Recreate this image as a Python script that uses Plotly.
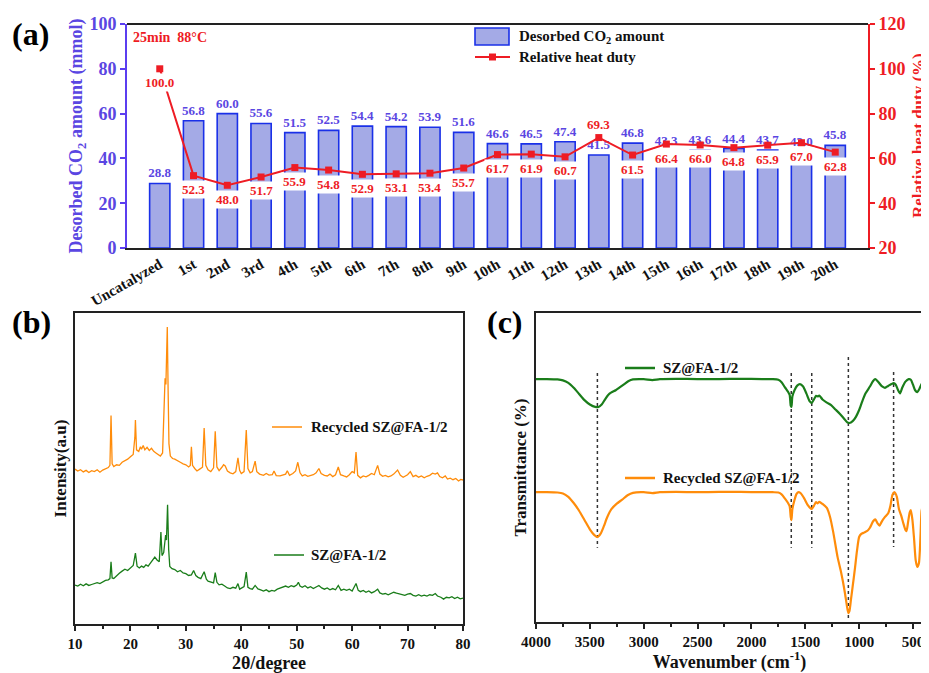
import plotly.graph_objects as go

# ---------------- data ----------------
cycles = ["Uncatalyzed", "1st", "2nd", "3rd", "4th", "5th", "6th", "7th", "8th", "9th", "10th",
          "11th", "12th", "13th", "14th", "15th", "16th", "17th", "18th", "19th", "20th"]
desorbed_co2 = [28.8, 56.8, 60.0, 55.6, 51.5, 52.5, 54.4, 54.2, 53.9, 51.6, 46.6,
                46.5, 47.4, 41.5, 46.8, 43.3, 43.6, 44.4, 43.7, 43.0, 45.8]
heat_duty = [100.0, 52.3, 48.0, 51.7, 55.9, 54.8, 52.9, 53.1, 53.4, 55.7, 61.7,
             61.9, 60.7, 69.3, 61.5, 66.4, 66.0, 64.8, 65.9, 67.0, 62.8]

xrd_recycled = [
    (10.0, 49.8), (10.5, 49.2), (11.0, 49.6), (11.5, 48.9), (12.0, 49.4), (12.5, 48.7), (13.0, 49.3),
    (13.5, 49.0), (14.0, 49.6), (14.5, 48.8), (15.0, 49.5), (15.5, 50.0), (16.0, 50.3), (16.3, 51.0),
    (16.5, 67.0), (16.7, 51.5), (17.0, 50.6), (17.5, 51.2), (18.0, 51.0), (18.5, 52.0), (19.0, 52.4),
    (19.5, 53.0), (20.0, 53.8), (20.5, 54.5), (20.8, 60.0), (20.9, 65.6), (21.1, 56.0), (21.5, 55.5),
    (21.8, 57.0), (22.0, 56.2), (22.3, 57.4), (22.6, 56.0), (23.0, 56.8), (23.4, 55.8), (23.8, 56.5),
    (24.2, 55.5), (24.6, 55.0), (25.0, 54.6), (25.4, 54.0), (25.8, 55.0), (26.0, 66.0), (26.1, 72.0),
    (26.25, 79.0), (26.4, 77.0), (26.5, 82.0), (26.65, 95.5), (26.8, 75.0), (26.95, 58.0), (27.2, 54.0),
    (27.6, 53.2), (28.0, 53.0), (28.5, 52.6), (29.0, 52.0), (29.5, 51.5), (30.0, 51.2), (30.5, 50.5),
    (30.8, 51.0), (31.0, 57.0), (31.2, 51.0), (31.6, 50.0), (32.0, 49.2), (32.5, 49.8), (33.0, 50.4),
    (33.3, 63.0), (33.6, 51.0), (34.0, 49.6), (34.5, 49.0), (35.0, 50.2), (35.3, 62.0), (35.6, 50.5),
    (36.0, 49.3), (36.5, 50.4), (36.8, 51.2), (37.1, 50.8), (37.5, 49.2), (38.0, 48.6), (38.5, 48.3),
    (39.0, 49.0), (39.4, 53.4), (39.7, 49.4), (40.0, 48.4), (40.5, 49.0), (40.9, 62.4), (41.2, 50.0),
    (41.6, 48.6), (42.0, 49.0), (42.5, 52.4), (42.8, 49.0), (43.3, 48.2), (44.0, 47.8), (44.5, 48.4),
    (45.0, 47.9), (45.6, 48.0), (45.9, 49.2), (46.3, 47.7), (47.0, 47.6), (47.5, 48.0), (48.0, 48.2),
    (48.3, 49.3), (48.7, 47.8), (49.3, 48.4), (49.8, 49.2), (50.2, 52.0), (50.6, 48.6), (51.0, 47.6),
    (51.5, 48.0), (52.0, 47.5), (52.5, 47.8), (53.0, 48.0), (53.5, 48.6), (54.0, 50.0), (54.4, 48.4),
    (55.0, 47.8), (55.5, 47.6), (56.0, 48.2), (56.5, 47.4), (57.0, 48.0), (57.5, 50.5), (57.9, 48.0),
    (58.5, 47.6), (59.0, 47.3), (59.5, 48.0), (60.0, 49.0), (60.4, 48.6), (60.7, 55.3), (61.0, 47.8),
    (61.5, 47.0), (62.0, 47.6), (62.5, 47.3), (63.0, 47.8), (63.5, 48.4), (64.0, 48.0), (64.6, 51.0),
    (65.0, 48.2), (65.5, 47.5), (66.0, 47.8), (66.5, 47.3), (67.0, 47.6), (67.5, 48.2), (68.2, 49.5),
    (68.7, 47.8), (69.2, 47.2), (69.7, 47.6), (70.0, 48.0), (70.5, 49.0), (71.0, 47.4), (71.5, 47.8),
    (72.0, 47.2), (72.5, 47.6), (73.0, 47.0), (73.5, 47.5), (74.0, 47.8), (74.5, 48.5), (75.0, 48.2),
    (75.4, 48.6), (75.8, 47.4), (76.3, 47.0), (76.8, 47.6), (77.2, 46.6), (77.7, 46.9), (78.2, 46.4),
    (78.7, 46.8), (79.2, 46.0), (79.6, 46.5), (80.0, 46.3),
]

xrd_fresh = [
    (10.0, 12.5), (10.5, 12.2), (11.0, 12.8), (11.5, 12.3), (12.0, 12.9), (12.5, 12.4), (13.0, 12.7),
    (13.5, 12.9), (14.0, 13.3), (14.5, 13.0), (15.0, 13.6), (15.5, 14.0), (16.0, 14.2), (16.3, 14.6),
    (16.5, 20.0), (16.7, 14.8), (17.0, 14.6), (17.5, 15.6), (18.0, 16.3), (18.5, 17.0), (19.0, 17.6),
    (19.5, 17.2), (20.0, 18.0), (20.5, 18.8), (20.9, 22.8), (21.2, 18.6), (21.6, 18.0), (22.0, 18.6),
    (22.4, 18.2), (22.8, 19.0), (23.2, 18.6), (23.6, 19.6), (24.0, 20.5), (24.4, 21.5), (24.8, 20.6),
    (25.2, 20.0), (25.5, 29.6), (25.7, 22.0), (26.0, 23.0), (26.2, 26.0), (26.35, 28.6), (26.5, 27.0),
    (26.7, 38.3), (26.9, 24.0), (27.1, 18.5), (27.5, 17.8), (28.0, 17.5), (28.5, 16.8), (29.0, 17.2),
    (29.5, 16.4), (30.0, 16.2), (30.5, 15.6), (31.0, 15.8), (31.4, 17.2), (31.8, 15.6), (32.2, 15.0),
    (32.7, 14.6), (33.3, 16.8), (33.7, 14.4), (34.0, 13.8), (34.5, 13.4), (35.0, 13.2), (35.3, 16.5),
    (35.6, 13.4), (36.0, 12.6), (36.5, 12.8), (37.0, 12.2), (37.5, 11.6), (38.0, 11.4), (38.5, 11.8),
    (39.0, 11.5), (39.4, 13.0), (39.7, 11.2), (40.2, 11.6), (40.5, 12.0), (40.9, 16.7), (41.2, 11.8),
    (41.6, 11.4), (42.0, 11.2), (42.5, 12.4), (43.0, 11.3), (43.5, 11.0), (44.0, 10.6), (44.5, 11.0),
    (45.0, 10.4), (45.5, 10.8), (46.0, 10.6), (46.5, 11.2), (47.0, 11.5), (47.5, 11.8), (48.0, 12.2),
    (48.5, 11.8), (49.0, 12.3), (49.5, 12.0), (50.0, 12.5), (50.3, 13.4), (50.6, 12.2), (51.0, 11.8),
    (51.5, 12.3), (52.0, 11.6), (52.5, 12.0), (53.0, 11.4), (53.5, 11.8), (54.0, 12.4), (54.5, 11.6),
    (55.0, 11.2), (55.5, 11.6), (56.0, 11.0), (56.5, 11.4), (57.0, 11.0), (57.5, 12.4), (58.0, 10.8),
    (58.5, 11.2), (59.0, 10.8), (59.5, 11.2), (60.0, 10.6), (60.7, 13.0), (61.1, 10.8), (61.5, 10.4),
    (62.0, 10.8), (62.5, 10.2), (63.0, 10.6), (63.5, 10.0), (64.0, 10.4), (64.6, 11.2), (65.0, 10.0),
    (65.5, 9.6), (66.0, 9.8), (66.5, 9.4), (67.0, 9.8), (67.5, 10.2), (68.0, 9.9), (68.5, 9.6),
    (69.0, 9.4), (69.5, 9.2), (70.0, 9.6), (70.5, 9.8), (71.0, 9.2), (71.5, 9.0), (72.0, 9.4),
    (72.5, 9.0), (73.0, 9.3), (73.5, 9.0), (74.0, 9.4), (74.5, 9.2), (75.0, 9.8), (75.4, 9.0),
    (76.0, 8.6), (76.5, 8.0), (77.0, 8.6), (77.5, 8.4), (78.0, 8.8), (78.5, 8.2), (79.0, 8.6),
    (79.5, 8.1), (80.0, 8.3),
]

ftir_fresh = [
    (4000, 78.6), (3900, 78.6), (3800, 78.5), (3750, 78.2), (3700, 77.4), (3650, 75.8), (3600, 73.8),
    (3550, 71.8), (3500, 70.4), (3450, 69.6), (3420, 69.6), (3390, 70.4), (3360, 72.0), (3330, 73.5),
    (3300, 74.3), (3260, 75.0), (3220, 76.0), (3180, 77.0), (3140, 78.0), (3100, 78.5), (3000, 78.6),
    (2920, 78.3), (2850, 78.6), (2700, 78.7), (2500, 78.6), (2300, 78.6), (2100, 78.7), (1900, 78.6),
    (1800, 78.6), (1750, 78.4), (1720, 77.6), (1690, 76.0), (1660, 74.5), (1645, 73.5), (1635, 70.0),
    (1628, 69.6), (1620, 73.0), (1600, 75.0), (1575, 76.5), (1550, 77.0), (1520, 76.2), (1490, 74.0),
    (1460, 71.5), (1440, 70.9), (1420, 72.0), (1400, 73.2), (1385, 73.0), (1370, 73.3), (1340, 72.0),
    (1300, 71.0), (1260, 70.2), (1220, 68.8), (1180, 67.4), (1140, 65.8), (1110, 64.6), (1090, 64.4),
    (1060, 65.0), (1030, 66.4), (1000, 68.6), (970, 71.5), (940, 74.0), (900, 76.2), (870, 78.0),
    (850, 78.6), (820, 77.6), (790, 76.3), (760, 75.8), (730, 76.4), (700, 77.0), (680, 77.3),
    (660, 76.8), (640, 75.2), (620, 74.0), (600, 75.8), (570, 77.8), (540, 78.6), (520, 78.4),
    (500, 76.8), (480, 75.0), (460, 74.4), (440, 75.5), (420, 77.0), (407, 77.7),
]

ftir_recycled = [
    (4000, 42.0), (3900, 42.0), (3800, 41.9), (3750, 41.6), (3700, 40.5), (3650, 38.5), (3600, 36.0),
    (3550, 33.0), (3500, 30.0), (3460, 28.2), (3430, 27.5), (3400, 28.6), (3370, 31.0), (3340, 33.8),
    (3300, 36.5), (3250, 38.3), (3200, 39.6), (3150, 41.0), (3100, 41.8), (3000, 42.0), (2920, 41.7),
    (2850, 42.0), (2700, 42.1), (2500, 42.0), (2300, 42.1), (2100, 42.1), (1900, 42.0), (1800, 42.0),
    (1750, 41.9), (1720, 41.3), (1690, 40.0), (1660, 38.5), (1645, 37.5), (1635, 34.0), (1628, 33.0),
    (1620, 36.5), (1600, 39.5), (1580, 41.5), (1560, 42.0), (1540, 41.6), (1510, 40.0), (1480, 38.0),
    (1450, 36.8), (1440, 36.6), (1420, 37.6), (1400, 38.8), (1385, 38.4), (1370, 38.9), (1340, 38.2),
    (1300, 36.9), (1270, 34.0), (1240, 29.0), (1200, 21.0), (1170, 16.5), (1150, 13.0), (1130, 9.0),
    (1110, 4.5), (1100, 2.9), (1090, 3.5), (1075, 7.5), (1060, 11.5), (1040, 17.0), (1020, 23.0),
    (1000, 27.5), (980, 28.5), (950, 29.0), (920, 29.6), (900, 30.5), (870, 32.6), (850, 33.2),
    (830, 32.0), (810, 31.2), (790, 32.5), (760, 34.0), (730, 35.2), (710, 37.5), (690, 41.2),
    (670, 42.0), (650, 40.5), (630, 36.5), (610, 34.5), (590, 32.0), (570, 29.8), (560, 29.4),
    (545, 32.5), (530, 35.5), (520, 36.2), (505, 33.0), (490, 27.0), (475, 20.0), (460, 17.8),
    (445, 19.0), (430, 28.0), (420, 36.0), (407, 37.9),
]

ftir_marker_positions = [3430, 1630, 1440, 1100, 680]
ftir_marker_top = [80.6, 80.6, 80.6, 85.8, 80.9]
ftir_marker_bottom = [24.0, 24.0, 24.0, 0.6, 24.3]

# ---------------- styles ----------------
FONT = "Liberation Serif"
BLUE_TXT = "#5a46e2"
BLUE_AX = "#5b3ef0"
BAR_FILL = "#a4aae6"
BAR_EDGE = "#1a30e8"
RED = "#ee1c24"
ORANGE = "#ff8c0a"
GREEN = "#1a7d1a"
OFF = 8                      # page body margin of the html page
W, H = 929 - OFF, 673 - OFF  # figure size so that it fills the window exactly


def px(xp):
    return (xp - OFF) / W


def py(yp):
    return 1 - (yp - OFF) / H


fig = go.Figure()

# ---- panel (a) ----
fig.add_trace(go.Bar(
    x=cycles, y=desorbed_co2, width=0.6,
    marker=dict(color=BAR_FILL, line=dict(color=BAR_EDGE, width=1.6)),
    text=[f"{v:.1f}" for v in desorbed_co2], textposition="outside", constraintext="none",
    textfont=dict(color=BLUE_TXT, size=13, family=FONT, weight="bold"),
    cliponaxis=False, xaxis="x", yaxis="y", showlegend=False,
))
fig.add_trace(go.Scatter(
    x=cycles, y=heat_duty, mode="lines+markers",
    line=dict(color=RED, width=2), marker=dict(symbol="square", size=7, color=RED),
    xaxis="x", yaxis="y2", showlegend=False, cliponaxis=False,
))

annotations = []
for c, v in zip(cycles, heat_duty):
    shift = 13 if c == "13th" else -14
    annotations.append(dict(
        x=c, y=v, xref="x", yref="y2", text=f"{v:.1f}", showarrow=False, yshift=shift,
        font=dict(color=RED, size=13, family=FONT, weight="bold"), bgcolor="white", borderpad=1,
    ))

# ---- panel (b) ----
fig.add_trace(go.Scatter(
    x=[p[0] for p in xrd_recycled], y=[p[1] for p in xrd_recycled], mode="lines",
    line=dict(color=ORANGE, width=1.3), xaxis="x2", yaxis="y3", showlegend=False,
))
fig.add_trace(go.Scatter(
    x=[p[0] for p in xrd_fresh], y=[p[1] for p in xrd_fresh], mode="lines",
    line=dict(color=GREEN, width=1.3), xaxis="x2", yaxis="y3", showlegend=False,
))

# ---- panel (c) ----
vx, vy = [], []
for pos, top, bot in zip(ftir_marker_positions, ftir_marker_top, ftir_marker_bottom):
    vx += [pos, pos, None]
    vy += [top, bot, None]
fig.add_trace(go.Scatter(
    x=vx, y=vy, mode="lines", line=dict(color="#333333", width=1.5, dash="dot"),
    xaxis="x3", yaxis="y4", showlegend=False,
))
fig.add_trace(go.Scatter(
    x=[p[0] for p in ftir_fresh], y=[p[1] for p in ftir_fresh], mode="lines",
    line=dict(color=GREEN, width=2.2, shape="spline", smoothing=0.6), xaxis="x3", yaxis="y4", showlegend=False,
))
fig.add_trace(go.Scatter(
    x=[p[0] for p in ftir_recycled], y=[p[1] for p in ftir_recycled], mode="lines",
    line=dict(color=ORANGE, width=2.2, shape="spline", smoothing=0.6), xaxis="x3", yaxis="y4", showlegend=False,
))

# ---- text / legends ----
lab_font = dict(family=FONT, size=15, color="#111111", weight="bold")
big = dict(family=FONT, size=32, color="black", weight="bold")
annotations += [
    dict(x=px(10), y=py(34), xref="paper", yref="paper", text="(a)", showarrow=False,
         xanchor="left", yanchor="middle", font=big),
    dict(x=px(10), y=py(322), xref="paper", yref="paper", text="(b)", showarrow=False,
         xanchor="left", yanchor="middle", font=big),
    dict(x=px(485), y=py(322), xref="paper", yref="paper", text="(c)", showarrow=False,
         xanchor="left", yanchor="middle", font=big),
    dict(x=px(131), y=py(37), xref="paper", yref="paper", text="25min  88°C", showarrow=False,
         xanchor="left", yanchor="middle", font=dict(family=FONT, size=14, color=RED, weight="bold")),
    dict(x=px(517), y=py(37), xref="paper", yref="paper", text="Desorbed CO<sub>2</sub> amount",
         showarrow=False, xanchor="left", yanchor="middle", font=lab_font),
    dict(x=px(517), y=py(57), xref="paper", yref="paper", text="Relative heat duty",
         showarrow=False, xanchor="left", yanchor="middle", font=lab_font),
    dict(x=px(309), y=py(427), xref="paper", yref="paper", text="Recycled SZ@FA-1/2",
         showarrow=False, xanchor="left", yanchor="middle", font=lab_font),
    dict(x=px(309), y=py(555), xref="paper", yref="paper", text="SZ@FA-1/2",
         showarrow=False, xanchor="left", yanchor="middle", font=lab_font),
    dict(x=px(661), y=py(368), xref="paper", yref="paper", text="SZ@FA-1/2",
         showarrow=False, xanchor="left", yanchor="middle", font=lab_font),
    dict(x=px(661), y=py(478), xref="paper", yref="paper", text="Recycled SZ@FA-1/2",
         showarrow=False, xanchor="left", yanchor="middle", font=lab_font),
    # right-axis title of panel (a)
    dict(x=px(918), y=py(136), xref="paper", yref="paper", text="Relative heat duty (%)",
         showarrow=False, textangle=-90, xanchor="center", yanchor="middle",
         font=dict(family=FONT, size=17, color=RED, weight="bold")),
]

shapes = [
    dict(type="line", xref="paper", yref="paper", x0=px(127), x1=px(868), y0=py(24), y1=py(24),
         line=dict(color="#222222", width=2)),
    dict(type="rect", xref="paper", yref="paper", x0=px(475), x1=px(509), y0=py(28), y1=py(45),
         fillcolor=BAR_FILL, line=dict(color=BAR_EDGE, width=1.6)),
    dict(type="line", xref="paper", yref="paper", x0=px(475), x1=px(510), y0=py(57), y1=py(57),
         line=dict(color=RED, width=2)),
    dict(type="rect", xref="paper", yref="paper", x0=px(489), x1=px(496), y0=py(53.5), y1=py(60.5),
         fillcolor=RED, line=dict(color=RED, width=0)),
    dict(type="line", xref="paper", yref="paper", x0=px(272), x1=px(302), y0=py(427), y1=py(427),
         line=dict(color=ORANGE, width=1.5)),
    dict(type="line", xref="paper", yref="paper", x0=px(274), x1=px(304), y0=py(555), y1=py(555),
         line=dict(color=GREEN, width=1.5)),
    dict(type="line", xref="paper", yref="paper", x0=px(625), x1=px(655), y0=py(368), y1=py(368),
         line=dict(color=GREEN, width=2.5)),
    dict(type="line", xref="paper", yref="paper", x0=px(625), x1=px(655), y0=py(478), y1=py(478),
         line=dict(color=ORANGE, width=2.5)),
]

tick_font = dict(family=FONT, size=15, color="#111111", weight="bold")
title_font = dict(family=FONT, size=18, color="#111111", weight="bold")

fig.update_layout(
    template="none",
    width=W, height=H,
    margin=dict(l=0, r=0, t=0, b=0),
    paper_bgcolor="white", plot_bgcolor="rgba(0,0,0,0)",
    font=dict(family=FONT, weight="bold"),
    annotations=annotations,
    shapes=shapes,
    xaxis=dict(domain=[px(127), px(868)], anchor="y", type="category", range=[-0.97, 20.97],
               tickangle=-30, showline=True, linecolor="#222222", linewidth=2, ticks="",
               tickfont=dict(family=FONT, size=15, color="#111111", weight="bold"),
               showgrid=False, zeroline=False, automargin=False),
    yaxis=dict(domain=[py(248), py(24)], anchor="x", range=[0, 100], dtick=20,
               showline=True, linecolor=BLUE_AX, linewidth=2, ticks="outside", ticklen=5,
               tickwidth=2, tickcolor=BLUE_AX,
               tickfont=dict(family=FONT, size=18, color=BLUE_TXT, weight="bold"),
               title=dict(text="Desorbed CO<sub>2</sub> amount (mmol)", standoff=2,
                          font=dict(family=FONT, size=18, color=BLUE_TXT, weight="bold")),
               showgrid=False, zeroline=False, automargin=False),
    yaxis2=dict(overlaying="y", anchor="x", side="right", range=[20, 120], dtick=20,
                showline=True, linecolor=RED, linewidth=2, ticks="outside", ticklen=5,
                tickwidth=2, tickcolor=RED,
                tickfont=dict(family=FONT, size=18, color=RED, weight="bold"),
                showgrid=False, zeroline=False, automargin=False),
    xaxis2=dict(domain=[px(75), px(463)], anchor="y3", range=[10, 80], dtick=10,
                showline=True, mirror=True, linecolor="#222222", linewidth=1.5,
                ticks="outside", ticklen=5, tickwidth=1.5, tickcolor="#222222",
                minor=dict(dtick=5, ticks="outside", ticklen=3, tickcolor="#222222"),
                tickfont=tick_font,
                title=dict(text="2θ/degree", standoff=9, font=title_font),
                showgrid=False, zeroline=False, automargin=False),
    yaxis3=dict(domain=[py(624), py(313)], anchor="x2", range=[0, 100],
                showline=True, mirror=True, linecolor="#222222", linewidth=1.5,
                ticks="", showticklabels=False,
                title=dict(text="Intensity(a.u)", standoff=2,
                           font=dict(family=FONT, size=17, color="#111111", weight="bold")),
                showgrid=False, zeroline=False, automargin=False),
    xaxis3=dict(domain=[px(536), px(923)], anchor="y4", range=[4000, 407], dtick=500,
                tick0=500,
                showline=True, mirror=True, linecolor="#222222", linewidth=1.5,
                ticks="outside", ticklen=5, tickwidth=1.5, tickcolor="#222222",
                minor=dict(dtick=250, ticks="outside", ticklen=3, tickcolor="#222222"),
                tickfont=tick_font,
                title=dict(text="Wavenumber (cm<sup>-1</sup>)", standoff=9, font=title_font),
                showgrid=False, zeroline=False, automargin=False),
    yaxis4=dict(domain=[py(622), py(313)], anchor="x3", range=[0, 100],
                showline=True, mirror=True, linecolor="#222222", linewidth=1.5,
                ticks="", showticklabels=False,
                title=dict(text="Transmittance (%)", standoff=3,
                           font=dict(family=FONT, size=17, color="#111111", weight="bold")),
                showgrid=False, zeroline=False, automargin=False),
)

fig.write_html("out.html")
